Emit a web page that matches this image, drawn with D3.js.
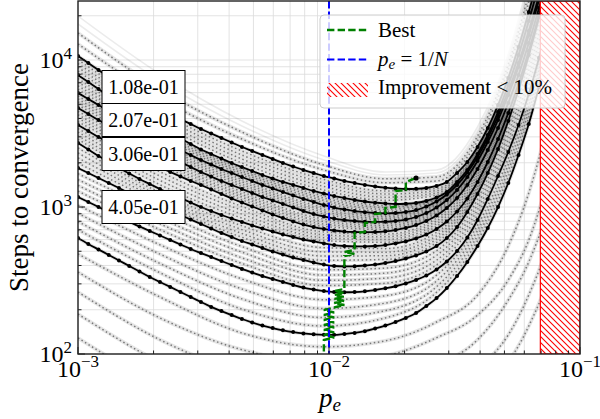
<!DOCTYPE html>
<html><head><meta charset="utf-8">
<script src="https://cdn.jsdelivr.net/npm/d3@7"></script>
<style>
body{margin:0;background:#fff}
svg{display:block}
text{font-family:"Liberation Serif","DejaVu Serif",serif;fill:#000}
</style></head>
<body><svg id="chart" width="600" height="419"></svg>
<script>
// mutation-rate samples p_e (log-spaced, 50 points from 1e-3 to 1e-1)
const peSamples = [0.001, 0.001099, 0.001207, 0.001326, 0.001456, 0.0016, 0.001758, 0.001931, 0.002121, 0.00233,
  0.00256, 0.002812, 0.003089, 0.003393, 0.003728, 0.004095, 0.004498, 0.004942, 0.005429, 0.005964,
  0.006551, 0.007197, 0.007906, 0.008685, 0.009541, 0.010481, 0.011514, 0.012649, 0.013895, 0.015264,
  0.016768, 0.018421, 0.020236, 0.02223, 0.024421, 0.026827, 0.029471, 0.032375, 0.035565, 0.039069,
  0.042919, 0.047149, 0.051795, 0.056899, 0.062506, 0.068665, 0.075431, 0.082864, 0.09103, 0.1];

// highlighted curves (black, with markers): steps to convergence per sample, top to bottom
const curveA = [10650, 9542, 8551, 7663, 6922, 6251, 5690, 5180, 4715, 4327, 3969, 3670, 3393, 3163, 2947, 2747, 2560, 2405, 2258, 2121, 1992, 1886, 1785, 1703, 1625, 1563, 1503, 1456, 1412, 1379, 1353, 1336, 1326, 1330, 1347, 1390, 1480, 1703, 2024, 2560, 3447, 4942, 7543, 12259, 21210, 38460];
const curveB = [7907, 7086, 6349, 5690, 5142, 4642, 4226, 3846, 3502, 3187, 2925, 2683, 2462, 2294, 2138, 1992, 1871, 1758, 1651, 1563, 1480, 1412, 1347, 1285, 1236, 1188, 1151, 1116, 1090, 1070, 1057, 1048, 1052, 1065, 1099, 1161, 1265, 1480, 1785, 2294, 3089, 4429, 6760, 10815, 18420, 32890];
const curveC = [5964, 5429, 4941, 4499, 4095, 3758, 3447, 3163, 2901, 2662, 2443, 2258, 2088, 1946, 1814, 1703, 1600, 1503, 1412, 1336, 1265, 1197, 1134, 1082, 1032, 992, 962, 939, 922, 910, 906, 910, 925, 954, 1008, 1090, 1216, 1412, 1717, 2189, 2947, 4160, 6154, 9542, 15751, 27250];
const curveD = [4715, 4292, 3907, 3585, 3289, 3017, 2768, 2560, 2367, 2189, 2024, 1871, 1730, 1613, 1503, 1412, 1326, 1245, 1170, 1107, 1048, 992, 939, 896, 862, 835, 816, 803, 794, 791, 794, 803, 822, 855, 910, 992, 1116, 1305, 1600, 2056, 2768, 3907, 5780, 8963, 14795, 25596];
const curveE = [3613, 3289, 2994, 2747, 2520, 2330, 2155, 1992, 1857, 1730, 1613, 1503, 1412, 1316, 1226, 1143, 1073, 1008, 947, 889, 842, 797, 760, 731, 709, 692, 681, 676, 674, 676, 683, 697, 720, 754, 803, 876, 985, 1151, 1412, 1814, 2443, 3447, 5099, 7907, 13051, 22584, 40953];
const curveF = [2725, 2462, 2223, 2024, 1842, 1690, 1551, 1434, 1326, 1236, 1151, 1073, 1000, 939, 882, 835, 791, 749, 714, 681, 650, 625, 601, 583, 565, 551, 543, 539, 539, 543, 551, 565, 583, 611, 650, 709, 797, 932, 1143, 1480, 2024, 2901, 4360, 6867, 11514, 20240, 37866];
const curveG = [1842, 1703, 1575, 1456, 1347, 1245, 1161, 1082, 1008, 939, 882, 822, 766, 714, 666, 625, 587, 556, 526, 498, 475, 453, 436, 419, 406, 397, 394, 395, 400, 406, 416, 429, 446, 468, 498, 543, 615, 731, 925, 1226, 1703, 2481, 3846, 6251, 10815, 19614, 37866];
const curveH = [1170, 1082, 1000, 925, 855, 791, 737, 687, 640, 596, 556, 518, 486, 457, 429, 403, 379, 358, 339, 324, 309, 295, 283, 275, 268, 264, 263, 264, 267, 272, 280, 289, 302, 319, 342, 376, 426, 502, 620, 816, 1134, 1625, 2367, 3613, 5871, 10318, 19310, 37866];
const curveI = [615, 560, 514, 472, 433, 397, 364, 334, 309, 286, 264, 244, 226, 209, 196, 184, 173, 164, 156, 150, 145, 141, 138, 136, 135, 135, 137, 139, 143, 149, 156, 165, 176, 190, 212, 240, 281, 339, 423, 543, 720, 1000, 1456, 2258, 3670, 6552, 12259, 24426, 51795];
const highlighted = [curveA, curveB, curveC, curveD, curveE, curveF, curveG, curveH, curveI];

// the remaining curves are stored on a coarser set of p_e values
const coarsePe = [0.001, 0.002121, 0.004498, 0.009541, 0.016768, 0.026827, 0.039069, 0.051795, 0.062506, 0.075431, 0.09103];
const dottedCurves = [
  [15266, 6349, 3238, 1931, 1558, 1600, 3041, 9394, 28120, 101580],
  [12850, 5514, 2901, 1785, 1463, 1503, 2812, 8551, 24810, 86860],
  [10031, 4442, 2405, 1539, 1287, 1340, 2504, 7380, 20625, 69330],
  [9453, 4186, 2258, 1456, 1226, 1293, 2450, 7220, 20050, 66770],
  [8907, 3944, 2121, 1379, 1166, 1247, 2397, 7063, 19493, 64300],
  [8392, 3716, 1992, 1305, 1111, 1203, 2345, 6910, 18950, 61930],
  [7473, 3372, 1814, 1192, 1024, 1146, 2273, 6634, 17850, 57440],
  [7063, 3248, 1758, 1150, 994, 1132, 2251, 6511, 17304, 55230],
  [6677, 3128, 1703, 1109, 964, 1118, 2230, 6389, 16770, 53280],
  [6310, 3013, 1651, 1070, 934, 1104, 2210, 6271, 16250, 51310],
  [5690, 2786, 1541, 995, 883, 1070, 2162, 6077, 15556, 48800],
  [5429, 2674, 1484, 960, 860, 1050, 2135, 6002, 15362, 48190],
  [5180, 2568, 1429, 926, 837, 1030, 2108, 5925, 15171, 47600],
  [4942, 2466, 1377, 894, 816, 1011, 2082, 5853, 14981, 47010],
  [4471, 2255, 1271, 829, 771, 968, 2005, 5637, 14428, 45280],
  [4239, 2148, 1218, 797, 748, 944, 1955, 5497, 14071, 44160],
  [4019, 2047, 1168, 766, 726, 920, 1907, 5361, 13722, 43060],
  [3810, 1949, 1119, 737, 704, 898, 1860, 5229, 13380, 41990],
  [3415, 1736, 1009, 677, 654, 839, 1741, 4942, 12729, 40310],
  [3228, 1623, 950, 647, 627, 805, 1672, 4789, 12413, 39690],
  [3051, 1517, 894, 618, 601, 771, 1605, 4642, 12107, 39070],
  [2884, 1418, 841, 591, 576, 739, 1541, 4499, 11807, 38460],
  [2520, 1255, 745, 529, 521, 672, 1425, 4252, 11375, 37866],
  [2330, 1188, 702, 495, 493, 637, 1372, 4147, 11229, 37866],
  [2155, 1125, 661, 464, 466, 604, 1322, 4044, 11090, 37866],
  [1992, 1065, 623, 434, 440, 573, 1273, 3944, 10951, 37866],
  [1685, 920, 538, 374, 384, 504, 1130, 3491, 9572, 33090],
  [1536, 841, 493, 344, 355, 469, 1042, 3167, 8472, 28930],
  [1403, 768, 451, 317, 328, 435, 960, 2874, 7495, 25280],
  [1281, 701, 413, 292, 303, 404, 885, 2608, 6634, 22096],
  [1029, 553, 324, 234, 249, 344, 752, 2148, 5361, 17633, 67390],
  [905, 478, 277, 204, 222, 314, 693, 1949, 4896, 16100, 63100],
  [796, 413, 237, 177, 197, 287, 639, 1769, 4471, 14702, 59080],
  [700, 357, 202, 155, 176, 263, 589, 1605, 4083, 13424, 55230],
  [479, 244, 139, 112, 123, 165, 252, 543, 1245, 4031, 18714],
  [361, 176, 107, 88, 97, 129, 184, 319, 596, 1651, 6251],
  [264, 125, 75, 62, 67, 84, 125, 233, 423, 1032, 3907],
  [187, 88, 53, 43, 46, 57, 80, 135, 252, 596, 2258],
  [128.5, 61, 37, 29.5, 31, 38.5, 54, 88, 155, 345, 1305]
];
const faintCurves = [
  [19920, 8032, 3846, 2223, 1730, 1785, 3502, 10986, 35015, 134660],
  [17580, 7198, 3557, 2088, 1651, 1703, 3289, 10318, 31870, 118800]
];

const curveLabels = ["1.08e-01", "2.07e-01", "3.06e-01", "4.05e-01"];

// path of the per-curve minimum
const bestPe = [0.009541, 0.009541,
  0.010481, 0.009541, 0.010481, 0.009541, 0.010481, 0.009541, 0.010481, 0.009541, 0.010481, 0.009541, 0.010481, 0.009541, 0.010481,
  0.011514, 0.010481, 0.011514, 0.010481, 0.011514, 0.010481, 0.011514, 0.010481, 0.011514,
  0.011514, 0.012649, 0.011514, 0.012649, 0.012649, 0.013895, 0.013895, 0.015264, 0.015264,
  0.016768, 0.016768, 0.018421, 0.018421, 0.020236, 0.020236, 0.02223];
const bestSteps = [88, 124.5,
  129.5, 134.7, 140.1, 145.6, 151.4, 157.5, 163.8, 170.3, 177.2, 184.2, 191.6, 199.2, 207.2,
  215.5, 222.3, 229.4, 236.7, 244.3, 252, 260, 268.3, 276.8,
  464.2, 478.9, 494.2, 509.9, 665.5, 676, 778, 791, 896,
  910, 985, 1000, 1285, 1305, 1480, 1575];

const populationN = 100;          // p_e = 1/N
const improvementCut = 0.0695;    // past this p_e the gain is under 10 %
const xDomain = [1e-3, 1e-1];
const yDomain = [100, 25200];

const svg = d3.select("#chart");
const L = 78, R = 580, T = 1, B = 354;
const x = d3.scaleLog().domain(xDomain).range([L, R]);
const y = d3.scaleLog().domain(yDomain).range([B, T]);

const defs = svg.append("defs");
defs.append("clipPath").attr("id", "plot").append("rect")
  .attr("x", L).attr("y", T).attr("width", R - L).attr("height", B - T);
const hatch = defs.append("pattern").attr("id", "hatch")
  .attr("patternUnits", "userSpaceOnUse").attr("width", 6).attr("height", 6);
hatch.append("path").attr("d", "M0,0L6,6M-1,5L1,7M5,-1L7,1")
  .attr("stroke", "#ff0000").attr("stroke-width", 1.1);

// grid
const grid = svg.append("g").attr("stroke", "#dcdcdc").attr("stroke-width", 0.8);
x.ticks().forEach(v => grid.append("line").attr("x1", x(v)).attr("x2", x(v)).attr("y1", T).attr("y2", B));
y.ticks().filter(v => v <= yDomain[1]).forEach(v => grid.append("line").attr("y1", y(v)).attr("y2", y(v)).attr("x1", L).attr("x2", R));

const plot = svg.append("g").attr("clip-path", "url(#plot)");
const fineLine = d3.line().x((d, i) => x(peSamples[i])).y(d => y(d)).curve(d3.curveMonotoneX);
const coarseLine = d3.line().x((d, i) => x(coarsePe[i])).y(d => y(d)).curve(d3.curveMonotoneX);

// light strokes under every curve
const faint = plot.append("g").attr("fill", "none").attr("stroke", "#000")
  .attr("stroke-opacity", 0.08).attr("stroke-width", 1.6);
faintCurves.forEach(r => faint.append("path").attr("d", coarseLine(r)));
const halo = plot.append("g").attr("fill", "none").attr("stroke", "#000")
  .attr("stroke-opacity", 0.1).attr("stroke-width", 3.8);
dottedCurves.forEach(r => halo.append("path").attr("d", coarseLine(r)));
highlighted.forEach(r => halo.append("path").attr("d", fineLine(r)));

// dotted curves
const dots = plot.append("g").attr("fill", "none").attr("stroke", "#777")
  .attr("stroke-width", 1.5).attr("stroke-dasharray", "1.5,2.6");
dottedCurves.forEach(r => dots.append("path").attr("d", coarseLine(r)));

// highlighted curves with markers
highlighted.forEach(r => {
  plot.append("path").attr("d", fineLine(r)).attr("fill", "none")
    .attr("stroke", "#000").attr("stroke-width", 1.8);
  plot.append("g").selectAll("circle").data(r).join("circle")
    .attr("cx", (d, i) => x(peSamples[i])).attr("cy", d => y(d)).attr("r", 2);
});

// minimum path
const bestLine = d3.line().x((d, i) => x(bestPe[i])).y(d => y(d));
plot.append("path").attr("d", bestLine(bestSteps)).attr("fill", "none")
  .attr("stroke", "#008000").attr("stroke-width", 2.4).attr("stroke-dasharray", "7.4,3.2");
plot.append("circle").attr("cx", x(bestPe[bestPe.length - 1])).attr("cy", y(bestSteps[bestSteps.length - 1])).attr("r", 2.6);

// p_e = 1/N
plot.append("line").attr("x1", x(1 / populationN)).attr("x2", x(1 / populationN)).attr("y1", T).attr("y2", B)
  .attr("stroke", "#0000ff").attr("stroke-width", 2).attr("stroke-dasharray", "7.4,3.2");

// region with less than 10 % improvement
const hx = x(improvementCut);
plot.append("rect").attr("x", hx).attr("y", T).attr("width", R - hx).attr("height", B - T).attr("fill", "#fff");
plot.append("rect").attr("x", hx).attr("y", T).attr("width", R - hx).attr("height", B - T)
  .attr("fill", "url(#hatch)").attr("stroke", "#ff0000").attr("stroke-width", 1.2);

// curve labels
const labelCx = 143.5, labelCy = [87, 120, 154, 207];
curveLabels.forEach((t, i) => {
  svg.append("rect").attr("x", labelCx - 41.5).attr("y", labelCy[i] - 16.5).attr("width", 83).attr("height", 33)
    .attr("fill", "#fff").attr("stroke", "#000").attr("stroke-width", 1);
  svg.append("text").attr("x", labelCx).attr("y", labelCy[i] + 7).attr("text-anchor", "middle")
    .attr("font-size", 20).text(t);
});

// frame and ticks
svg.append("rect").attr("x", L).attr("y", T).attr("width", R - L).attr("height", B - T)
  .attr("fill", "none").attr("stroke", "#222").attr("stroke-width", 1.4);
const isMajor = v => Math.abs(Math.log10(v) - Math.round(Math.log10(v))) < 1e-6;
const ticks = svg.append("g").attr("stroke", "#222").attr("stroke-width", 1);
x.ticks().forEach(v => {
  const len = isMajor(v) ? 7 : 3.5;
  ticks.append("line").attr("x1", x(v)).attr("x2", x(v)).attr("y1", B).attr("y2", B - len);
});
y.ticks().filter(v => v <= yDomain[1]).forEach(v => {
  const len = isMajor(v) ? 7 : 3.5;
  ticks.append("line").attr("y1", y(v)).attr("y2", y(v)).attr("x1", L).attr("x2", L + len);
});

// tick labels
[1e-3, 1e-2, 1e-1].forEach(v => {
  const t = svg.append("text").attr("x", x(v)).attr("y", 377).attr("text-anchor", "middle").attr("font-size", 24);
  t.append("tspan").text("10");
  t.append("tspan").attr("font-size", 17).attr("dy", -10).text("\u2212" + (-Math.round(Math.log10(v))));
});
[1e2, 1e3, 1e4].forEach(v => {
  const t = svg.append("text").attr("x", 72).attr("y", y(v) + 8).attr("text-anchor", "end").attr("font-size", 24);
  t.append("tspan").text("10");
  t.append("tspan").attr("font-size", 17).attr("dy", -9).text(Math.round(Math.log10(v)));
});

// axis titles
svg.append("text").attr("transform", "translate(28,177.5) rotate(-90)").attr("text-anchor", "middle")
  .attr("font-size", 27).text("Steps to convergence");
const xl = svg.append("text").attr("x", 330).attr("y", 407).attr("text-anchor", "middle").attr("font-size", 27);
xl.append("tspan").attr("font-style", "italic").text("p");
xl.append("tspan").attr("font-style", "italic").attr("font-size", 19).attr("dy", 4).text("e");

// legend
const lg = svg.append("g");
lg.append("rect").attr("x", 320).attr("y", 15).attr("width", 245).attr("height", 93).attr("rx", 4)
  .attr("fill", "#fff").attr("fill-opacity", 0.8).attr("stroke", "#cccccc").attr("stroke-width", 1);
lg.append("line").attr("x1", 327).attr("x2", 368).attr("y1", 30).attr("y2", 30)
  .attr("stroke", "#008000").attr("stroke-width", 2.4).attr("stroke-dasharray", "7.4,3.2");
lg.append("line").attr("x1", 327).attr("x2", 368).attr("y1", 59.5).attr("y2", 59.5)
  .attr("stroke", "#0000ff").attr("stroke-width", 2).attr("stroke-dasharray", "7.4,3.2");
lg.append("rect").attr("x", 327).attr("y", 83).attr("width", 41).attr("height", 14).attr("fill", "url(#hatch)");
lg.append("text").attr("x", 378).attr("y", 37).attr("font-size", 21).text("Best");
const pt = lg.append("text").attr("x", 378).attr("y", 66).attr("font-size", 21);
pt.append("tspan").attr("font-style", "italic").text("p");
pt.append("tspan").attr("font-style", "italic").attr("font-size", 15).attr("dy", 3).text("e");
pt.append("tspan").attr("dy", -3).text(" = 1/");
pt.append("tspan").attr("font-style", "italic").text("N");
lg.append("text").attr("x", 378).attr("y", 94).attr("font-size", 21).text("Improvement < 10%");
</script></body></html>
